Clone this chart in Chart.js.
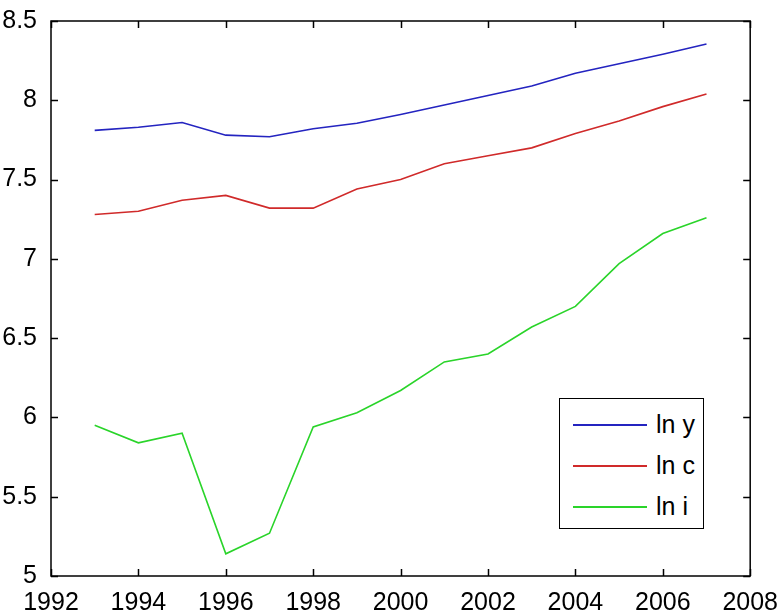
<!DOCTYPE html>
<html>
<head>
<meta charset="utf-8">
<script src="https://cdn.jsdelivr.net/npm/chart.js@4/dist/chart.umd.min.js"></script>
<style>
  html, body { margin: 0; padding: 0; background: #fff; }
  #wrap { position: relative; width: 782px; height: 612px; }
  #legend {
    position: absolute; left: 559px; top: 398px; width: 143px; height: 129px;
    border: 1.5px solid #000; background: #fff;
    font-family: "Liberation Sans", Arial, sans-serif;
    font-size: 25px; color: #000;
  }
  .lg-row { position: absolute; left: 0; height: 30px; }
  .lg-line { position: absolute; left: 13px; width: 74px; height: 0; border-top: 2px solid; }
  .lg-text { position: absolute; left: 96px; line-height: 30px; white-space: nowrap; }
</style>
</head>
<body>
<div id="wrap">
  <canvas id="c" width="782" height="612"></canvas>
  <div id="legend"></div>
</div>
<script>
/* ── 데이터 ── */
const years   = [1993, 1994, 1995, 1996, 1997, 1998, 1999, 2000, 2001, 2002, 2003, 2004, 2005, 2006, 2007];
const lnY     = [7.81, 7.83, 7.86, 7.78, 7.77, 7.82, 7.855, 7.91, 7.97, 8.03, 8.09, 8.17, 8.23, 8.29, 8.355];
const lnC     = [7.28, 7.30, 7.37, 7.40, 7.32, 7.32, 7.44, 7.50, 7.60, 7.65, 7.70, 7.79, 7.87, 7.96, 8.04];
const lnI     = [5.95, 5.84, 5.90, 5.14, 5.27, 5.94, 6.03, 6.17, 6.35, 6.40, 6.57, 6.70, 6.97, 7.16, 7.26];
const seriesNames  = ['ln y', 'ln c', 'ln i'];
const seriesColors = ['#2424c0', '#d02a2a', '#2ad42a'];
const xTicks = [1992, 1994, 1996, 1998, 2000, 2002, 2004, 2006, 2008];
const yTicks = [5, 5.5, 6, 6.5, 7, 7.5, 8, 8.5];

const FONT = { family: '"Liberation Sans", Arial, sans-serif', size: 25 };

const toPts = arr => arr.map((v, i) => ({ x: years[i], y: v }));

/* ── 축 박스 + 안쪽 눈금 (MATLAB 스타일) ── */
const boxPlugin = {
  id: 'box',
  afterDraw(chart) {
    const { ctx, chartArea: a, scales } = chart;
    const t = 7;
    ctx.save();
    ctx.strokeStyle = '#000';
    ctx.lineWidth = 1.5;
    ctx.strokeRect(a.left, a.top, a.right - a.left, a.bottom - a.top);
    ctx.beginPath();
    xTicks.forEach(v => {
      const px = Math.round(scales.x.getPixelForValue(v)) + 0.5;
      ctx.moveTo(px, a.bottom); ctx.lineTo(px, a.bottom - t);
      ctx.moveTo(px, a.top);    ctx.lineTo(px, a.top + t);
    });
    yTicks.forEach(v => {
      const py = Math.round(scales.y.getPixelForValue(v)) + 0.5;
      ctx.moveTo(a.left, py);  ctx.lineTo(a.left + t, py);
      ctx.moveTo(a.right, py); ctx.lineTo(a.right - t, py);
    });
    ctx.stroke();
    ctx.restore();
  }
};

const chart = new Chart(document.getElementById('c'), {
  type: 'line',
  data: {
    datasets: [lnY, lnC, lnI].map((s, i) => ({
      label: seriesNames[i],
      data: toPts(s),
      borderColor: seriesColors[i],
      backgroundColor: seriesColors[i],
      borderWidth: 1.6,
      pointRadius: 0,
      tension: 0,
    })),
  },
  options: {
    responsive: false,
    animation: false,
    layout: { padding: { top: 20, right: 25, left: 0, bottom: 0 } },
    plugins: { legend: { display: false }, tooltip: { enabled: false } },
    scales: {
      x: {
        type: 'linear', min: 1992, max: 2008,
        afterBuildTicks: s => { s.ticks = xTicks.map(v => ({ value: v })); },
        ticks: { font: FONT, color: '#000', padding: 4, maxRotation: 0, callback: v => String(v) },
        grid: { display: false },
        border: { display: false },
        afterFit: s => { s.height = 36; },
      },
      y: {
        type: 'linear', min: 5, max: 8.5,
        afterBuildTicks: s => { s.ticks = yTicks.map(v => ({ value: v })); },
        ticks: { font: FONT, color: '#000', padding: 6, callback: v => String(v) },
        grid: { display: false },
        border: { display: false },
        afterFit: s => { s.width = 51; },
      },
    },
  },
  plugins: [boxPlugin],
});

/* ── 범례 (HTML) ── */
const legendEl = document.getElementById('legend');
legendEl.innerHTML = seriesNames.map((name, i) => `
  <div class="lg-row" style="top:${10 + i * 41}px;width:100%;">
    <div class="lg-line" style="top:15px;border-color:${seriesColors[i]};"></div>
    <div class="lg-text">${name}</div>
  </div>`).join('');
</script>
</body>
</html>
